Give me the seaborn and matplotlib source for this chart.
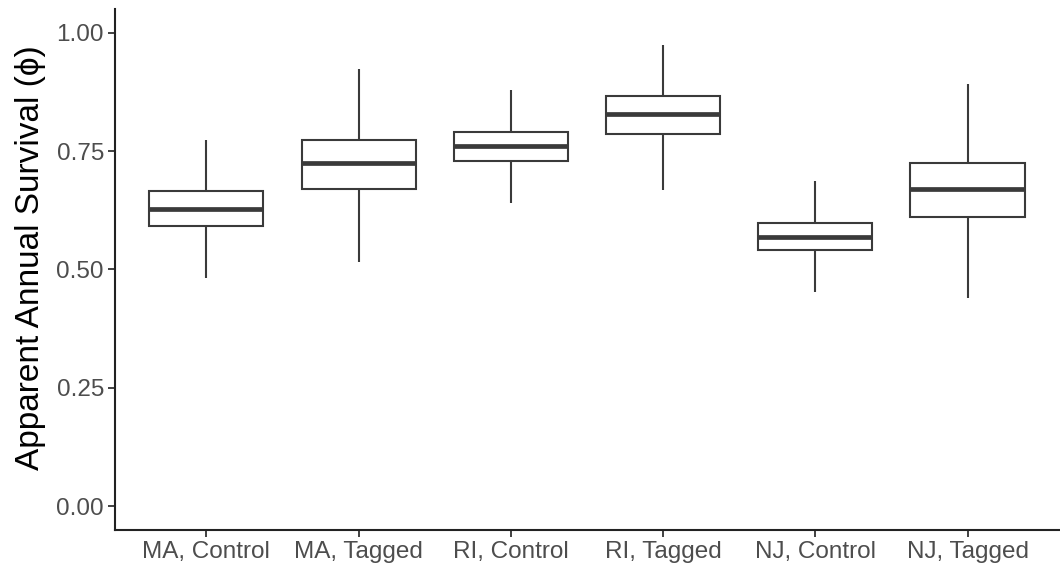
import numpy as np
import pandas as pd
import matplotlib
matplotlib.use("Agg")
import matplotlib.pyplot as plt
import seaborn as sns

# Box summaries: whisker low, Q1, median, Q3, whisker high
groups = ['MA, Control', 'MA, Tagged', 'RI, Control', 'RI, Tagged', 'NJ, Control', 'NJ, Tagged']
low    = [0.482, 0.516, 0.640, 0.667, 0.453, 0.440]
q1     = [0.591, 0.670, 0.730, 0.786, 0.541, 0.610]
median = [0.628, 0.724, 0.760, 0.829, 0.569, 0.670]
q3     = [0.665, 0.774, 0.790, 0.866, 0.598, 0.724]
high   = [0.774, 0.923, 0.879, 0.974, 0.686, 0.892]

# five points per group give exactly these quartiles under linear percentiles
rows = []
for i, g in enumerate(groups):
    for v in (low[i], q1[i], median[i], q3[i], high[i]):
        rows.append({'group': g, 'phi': v})
df = pd.DataFrame(rows)

sns.set_style("white")
plt.rcParams['font.family'] = ['Liberation Sans', 'DejaVu Sans']

fig = plt.figure(figsize=(10.6, 5.65), dpi=100)
ax = fig.add_axes([0.1085, 0.0625, 0.8905, 0.9215])

line_col = '#3a3a3a'
sns.boxplot(data=df, x='group', y='phi', order=groups, whis=(0, 100),
            width=0.75, color='white', linecolor=line_col, linewidth=1.5,
            medianprops={'linewidth': 3.4, 'color': line_col},
            capprops={'visible': False}, showfliers=False, ax=ax)

ax.set_xlim(-0.6, 5.6)
ax.set_ylim(-0.05, 1.05)
ax.set_yticks([0, 0.25, 0.5, 0.75, 1.0])
ax.set_yticklabels(['0.00', '0.25', '0.50', '0.75', '1.00'])
ax.set_xlabel('')
ax.set_ylabel('Apparent Annual Survival (\u03d5)', fontsize=24, color='black')
ax.yaxis.set_label_coords(-0.073, 0.522)

for side in ['top', 'right']:
    ax.spines[side].set_visible(False)
for side in ['left', 'bottom']:
    ax.spines[side].set_color('#222222')
    ax.spines[side].set_linewidth(1.5)

ax.tick_params(axis='both', which='major', length=5, width=1.3, color='#333333',
               labelsize=17.5, labelcolor='#4D4D4D', pad=3, direction='out',
               left=True, bottom=True)
ax.grid(False)

fig.savefig('out.png', dpi=100)
